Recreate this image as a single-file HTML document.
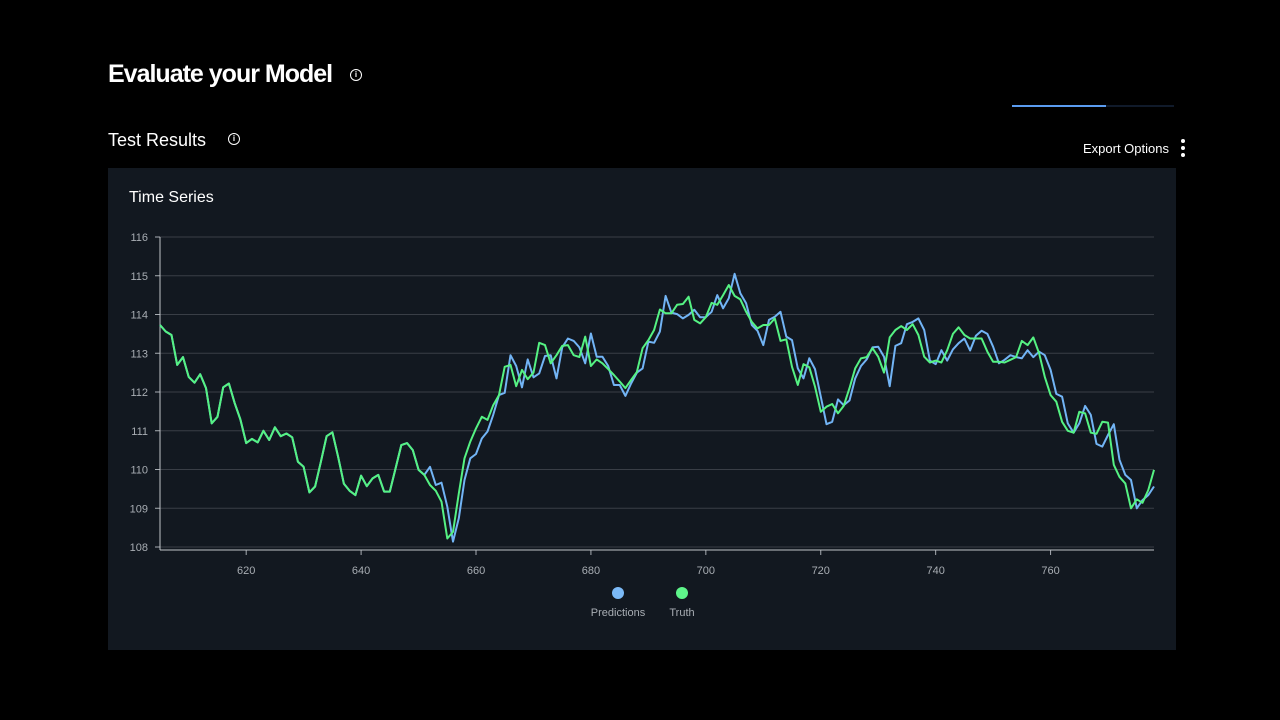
<!DOCTYPE html>
<html><head><meta charset="utf-8"><style>
body{margin:0;width:1280px;height:720px;background:#000;font-family:"Liberation Sans",sans-serif;color:#fff;position:relative;overflow:hidden}
.abs{position:absolute}
.info{width:10px;height:10px;border:1.5px solid #fff;border-radius:50%;font-size:8px;line-height:10px;text-align:center;font-weight:bold}
</style></head><body>
<div class="abs" style="left:108px;top:60px;font-size:25px;font-weight:bold;letter-spacing:-1px">Evaluate your Model</div>
<div class="abs info" style="left:350px;top:69px">i</div>
<div class="abs" style="left:1012px;top:105px;width:162px;height:2px;background:#101a2a"></div>
<div class="abs" style="left:1012px;top:105px;width:94px;height:2px;background:#5b9cf0"></div>
<div class="abs" style="left:108px;top:130px;font-size:18px">Test Results</div>
<div class="abs info" style="left:228px;top:133px">i</div>
<div class="abs" style="left:1083px;top:141px;font-size:13px">Export Options</div>
<div class="abs" style="left:1181px;top:139px;width:5px">
<div style="width:4px;height:4px;border-radius:50%;background:#fff;margin-bottom:3px"></div><div style="width:4px;height:4px;border-radius:50%;background:#fff;margin-bottom:3px"></div><div style="width:4px;height:4px;border-radius:50%;background:#fff"></div></div>
<div class="abs" style="left:108px;top:168px;width:1068px;height:482px;background:#121820"></div>
<div class="abs" style="left:129px;top:189px;font-size:16px">Time Series</div>
<svg class="abs" style="left:0;top:0" width="1280" height="720">
<g id="grid"></g><g id="axes"></g><g id="lines"></g><g id="legend"></g>
</svg>
<script>
const truth=[113.73,113.56,113.47,112.70,112.90,112.39,112.24,112.46,112.10,111.19,111.36,112.12,112.22,111.71,111.29,110.68,110.79,110.70,111.00,110.76,111.09,110.86,110.93,110.83,110.20,110.07,109.41,109.56,110.20,110.86,110.96,110.33,109.63,109.45,109.34,109.84,109.57,109.77,109.86,109.43,109.43,110.03,110.63,110.68,110.50,109.99,
109.86,109.60,109.45,109.17,108.22,108.39,109.38,110.29,110.72,111.06,111.36,111.28,111.66,111.92,112.65,112.70,112.15,112.57,112.33,112.50,113.27,113.21,112.74,112.95,113.19,113.21,112.95,112.90,113.43,112.67,112.84,112.74,112.59,112.44,112.27,112.10,112.31,112.52,113.13,113.34,113.60,114.13,114.03,
114.03,114.25,114.27,114.46,113.86,113.77,113.93,114.30,114.25,114.50,114.76,114.48,114.39,114.07,113.81,113.64,113.73,113.73,113.90,113.32,113.36,112.65,112.18,112.72,112.64,112.14,111.49,111.62,111.69,111.45,111.64,112.10,112.61,112.87,112.90,113.13,112.91,112.50,113.41,113.60,113.70,113.60,113.75,
113.47,112.91,112.76,112.81,112.76,113.08,113.50,113.67,113.47,113.38,113.38,113.38,113.04,112.78,112.78,112.76,112.83,112.90,113.32,113.21,113.41,113.00,112.39,111.92,111.75,111.23,111.00,110.95,111.49,111.45,110.95,110.92,111.23,111.21,110.12,109.81,109.64,109.00,109.23,109.14,109.47,109.99];
const predictions=[113.73,113.56,113.47,112.70,112.90,112.39,112.24,112.46,112.10,111.19,111.36,112.12,112.22,111.71,111.29,110.68,110.79,110.70,111.00,110.76,111.09,110.86,110.93,110.83,110.20,110.07,109.41,109.56,110.20,110.86,110.96,110.33,109.63,109.45,109.34,109.84,109.57,109.77,109.86,109.43,109.43,110.03,110.63,110.68,110.50,109.99,
109.86,110.07,109.60,109.66,109.04,108.14,108.74,109.73,110.29,110.40,110.80,110.98,111.41,111.92,111.98,112.95,112.67,112.12,112.84,112.38,112.48,112.93,112.95,112.35,113.15,113.38,113.32,113.15,112.74,113.51,112.91,112.91,112.67,112.18,112.18,111.90,112.22,112.50,112.61,113.30,113.27,113.56,114.48,
114.05,114.01,113.90,113.99,114.12,113.93,113.93,114.07,114.50,114.16,114.42,115.05,114.55,114.29,113.73,113.58,113.21,113.86,113.94,114.07,113.43,113.34,112.61,112.35,112.87,112.59,111.88,111.17,111.23,111.81,111.66,111.78,112.35,112.67,112.84,113.15,113.17,112.91,112.15,113.19,113.26,113.75,113.81,
113.90,113.60,112.81,112.72,113.08,112.81,113.10,113.26,113.38,113.07,113.45,113.58,113.50,113.17,112.74,112.83,112.95,112.90,112.87,113.08,112.90,113.04,112.95,112.57,111.95,111.88,111.19,110.95,111.19,111.64,111.41,110.66,110.59,110.89,111.17,110.25,109.86,109.73,109.00,109.21,109.34,109.56];
const xStart=605;
const yTicks=[108,109,110,111,112,113,114,115,116];
const xTicks=[620,640,660,680,700,720,740,760];
const NS='http://www.w3.org/2000/svg';
const X0=160,X1=1154,Y0=547,Y1=237;
const xEnd=xStart+truth.length-1;
function xs(v){return X0+(v-xStart)/(xEnd-xStart)*(X1-X0);}
function ys(v){return Y0-(v-108)/(116-108)*(Y0-Y1);}
function mk(t,a,p){const e=document.createElementNS(NS,t);for(const k in a)e.setAttribute(k,a[k]);p.appendChild(e);return e;}
const grid=document.getElementById('grid'),axes=document.getElementById('axes'),lines=document.getElementById('lines'),legend=document.getElementById('legend');
yTicks.forEach(v=>{
 const l=mk('line',{x1:X0,x2:X1,y1:ys(v),y2:ys(v),stroke:'#393e46','stroke-width':1},grid);
 
 
 const t=mk('text',{x:148,y:ys(v)+4,fill:'#a8adb3','font-size':11,'text-anchor':'end','font-family':'Liberation Sans, sans-serif'},axes);
 t.textContent=v;
 
 
 mk('line',{x1:155,x2:160,y1:ys(v),y2:ys(v),stroke:'#a8adb3'},axes);
});
xTicks.forEach(v=>{
 const t=mk('text',{x:xs(v),y:574,fill:'#a8adb3','font-size':11,'text-anchor':'middle','font-family':'Liberation Sans, sans-serif'},axes);
 t.textContent=v;
 
 
 mk('line',{x1:xs(v),x2:xs(v),y1:550,y2:555,stroke:'#a8adb3'},axes);
});
const ya=mk('line',{x1:X0,x2:X0,y1:Y1,y2:550,stroke:'#c0c4c8'},axes);


const xa=mk('line',{x1:X0,x2:X1,y1:550,y2:550,stroke:'#c0c4c8'},axes);


function path(arr){return arr.map((v,i)=>(i?'L':'M')+xs(xStart+i).toFixed(1)+','+ys(v).toFixed(1)).join('');}
const pp=mk('path',{d:path(predictions),fill:'none',stroke:'#72b4f5','stroke-width':2,'stroke-linejoin':'round'},lines);


const tp=mk('path',{d:path(truth),fill:'none',stroke:'#55f283','stroke-width':2,'stroke-linejoin':'round'},lines);


[['Predictions','#7cbaf7',618],['Truth','#5ef58a',682]].forEach(d=>{
 const g=mk('g',{},legend);
 
 
 mk('circle',{cx:d[2],cy:593,r:6,fill:d[1]},g);
 const t=mk('text',{x:d[2],y:616,fill:'#a8adb3','font-size':11,'text-anchor':'middle','font-family':'Liberation Sans, sans-serif'},g);
 t.textContent=d[0];
});
</script>
</body></html>
